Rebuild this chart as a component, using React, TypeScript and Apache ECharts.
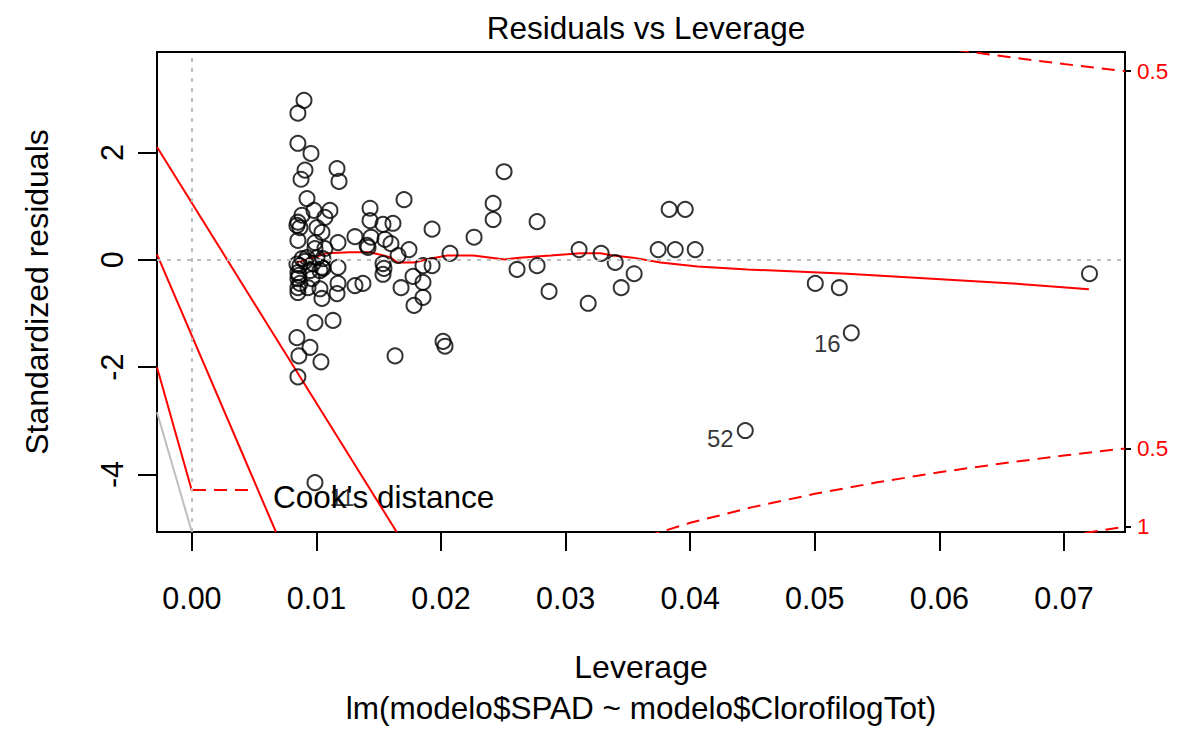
import React, { useEffect, useRef } from "react";
import * as echarts from "echarts";

// ---- data ----
const leverage = [
  0.0090, 0.00851, 0.00851, 0.00956, 0.00908, 0.00876, 0.01165, 0.01181, 0.00924, 0.00980,
  0.01108, 0.01068, 0.00884, 0.00851, 0.00867, 0.00843, 0.01004, 0.01044, 0.00851, 0.00988,
  0.01173, 0.00988, 0.01068, 0.01309, 0.01430, 0.01430, 0.01534, 0.01614, 0.01438, 0.01406,
  0.01414, 0.01550, 0.01598, 0.01655, 0.01743, 0.01703, 0.00924, 0.00884, 0.01004, 0.01052,
  0.00867, 0.00972, 0.01044, 0.01173, 0.00851, 0.00948, 0.01028, 0.01052, 0.00851, 0.00964,
  0.00867, 0.00851, 0.00851, 0.00932, 0.01028, 0.01173, 0.01165, 0.01044, 0.01309, 0.01373,
  0.01534, 0.01542, 0.01534, 0.01679, 0.01775, 0.01783, 0.00988, 0.01133, 0.00843, 0.00948,
  0.00859, 0.01036, 0.00851, 0.01631, 0.00988, 0.01855, 0.01928, 0.01855, 0.01855, 0.01928,
  0.02072, 0.02265, 0.02418, 0.02418, 0.02506, 0.02610, 0.02771, 0.02771, 0.02867, 0.03108,
  0.03181, 0.03285, 0.03398, 0.03446, 0.03550, 0.03743, 0.03831, 0.03880, 0.03960, 0.04040,
  0.04442, 0.05004, 0.05197, 0.05293, 0.07205, 0.02016, 0.02032, 0.00843, 0.00859, 0.00908,
];
const stdResid = [
  2.97, 2.73, 2.17, 1.98, 1.67, 1.50, 1.70, 1.46, 1.14, 0.92,
  0.92, 0.79, 0.83, 0.70, 0.60, 0.64, 0.60, 0.51, 0.36, 0.32,
  0.32, 0.21, 0.21, 0.43, 0.96, 0.73, 0.66, 0.68, 0.42, 0.27,
  0.23, 0.38, 0.30, 0.08, 0.19, 1.12, 0.04, 0.02, 0.04, 0.02,
  -0.11, -0.07, -0.14, -0.14, -0.24, -0.20, -0.20, -0.16, -0.35, -0.35,
  -0.44, -0.61, -0.52, -0.52, -0.54, -0.44, -0.63, -0.72, -0.48, -0.44,
  -0.07, -0.16, -0.27, -0.52, -0.31, -0.85, -1.17, -1.13, -1.45, -1.63,
  -1.79, -1.90, -2.18, -1.79, -4.15, -0.11, -0.11, -0.42, -0.70, 0.57,
  0.12, 0.42, 1.05, 0.75, 1.64, -0.18, 0.71, -0.11, -0.59, 0.19,
  -0.81, 0.12, -0.05, -0.52, -0.26, 0.19, 0.94, 0.19, 0.94, 0.19,
  -3.18, -0.44, -0.52, -1.36, -0.26, -1.52, -1.61, -0.08, -0.29, -0.03,
];
// indices of labelled observations and their ids
const labelIndex = [74, 100, 103];
const labelText = ["11", "52", "16"];

// loess smoother (red solid)
const smoothX = [0.0084, 0.0095, 0.0108, 0.0127, 0.0143, 0.0159, 0.0165, 0.0178, 0.0191, 0.0205,
  0.0226, 0.0251, 0.0263, 0.0288, 0.0312, 0.0328, 0.0338, 0.0354, 0.0376, 0.0406,
  0.0446, 0.0526, 0.0659, 0.0720];
const smoothY = [-0.045, 0.02, 0.12, 0.14, 0.14, 0.05, -0.05, -0.05, 0.02, 0.08,
  0.08, 0.005, 0.04, 0.08, 0.12, 0.12, 0.08, 0.04, -0.05, -0.125,
  -0.18, -0.26, -0.44, -0.55];

// Cook's distance contours (red dashed)
const cook05UpperX = [0.058, 0.062, 0.066, 0.070, 0.0749];
const cook05UpperY = [4.03, 3.889, 3.762, 3.645, 3.514];
const cook05LowerX = [0.0365, 0.040, 0.045, 0.050, 0.055, 0.060, 0.065, 0.070, 0.0749];
const cook05LowerY = [-5.15, -4.899, -4.607, -4.359, -4.145, -3.958, -3.793, -3.645, -3.514];
const cook1LowerX = [0.0700, 0.0749];
const cook1LowerY = [-5.15, -4.97];

// stray solid lines at the lower left
const segAX = [-0.0028, 0.01644];
const segAY = [2.10, -5.07];
const segBX = [-0.0028, 0.00675];
const segBY = [0.10, -5.07];
const segCX = [-0.0028, 0.0];
const segCY = [-2.0, -4.30];
const greyX = [-0.0028, 0.0];
const greyY = [-2.84, -5.07];

// axes
const xTicks = [0.0, 0.01, 0.02, 0.03, 0.04, 0.05, 0.06, 0.07];
const yTicks = [-4, -2, 0, 2];
const cookTickPos = [3.514, -3.514, -4.97];
const cookTickLabel = ["0.5", "0.5", "1"];

const FONT = "'Liberation Sans', Arial, Helvetica, sans-serif";

const zip = (xs: number[], ys: number[]) => xs.map((x, i) => [x, ys[i]]);

export default function App() {
  const ref = useRef<HTMLDivElement>(null);
  useEffect(() => {
    if (!ref.current) return;
    const chart = echarts.init(ref.current, null, { renderer: "svg" });
    const pts = leverage.map((x, i) => {
      const k = labelIndex.indexOf(i);
      const item: any = { value: [x, stdResid[i]] };
      if (k >= 0) {
        const off = k === 0 ? [27, 15] : k === 1 ? [-25, 8] : [-24, 11];
        item.label = {
          show: true,
          formatter: labelText[k],
          position: "inside",
          offset: off,
          color: "#000",
          fontSize: 24,
          fontFamily: FONT,
        };
      }
      return item;
    });
    const redDash = { color: "#FF0000", width: 2, type: [13, 8] as any };
    const redSolid = { color: "#FF0000", width: 2, type: "solid" as const };
    const lineSeries = (data: number[][], lineStyle: any) => ({
      type: "line",
      data,
      showSymbol: false,
      symbol: "none",
      lineStyle,
      silent: true,
      clip: true,
      z: 2,
    });
    chart.setOption({
      animation: false,
      backgroundColor: "#fff",
      textStyle: { fontFamily: FONT },
      title: {
        text: "Residuals vs Leverage",
        left: 641,
        top: 7,
        textAlign: "center",
        textStyle: { fontSize: 31.5, fontWeight: "normal", color: "#000", fontFamily: FONT },
      },
      grid: {
        left: 157,
        right: 54,
        top: 52,
        bottom: 197,
        show: true,
        borderColor: "#000",
        borderWidth: 2,
        backgroundColor: "transparent",
      },
      xAxis: {
        type: "value",
        min: -0.0028,
        max: 0.0749,
        name: "Leverage",
        nameLocation: "middle",
        nameGap: 119,
        nameTextStyle: { fontSize: 32, color: "#000", fontFamily: FONT },
        axisLine: { show: true, onZero: false, lineStyle: { color: "#000", width: 2 } },
        axisTick: { show: true, length: 19, customValues: xTicks, lineStyle: { color: "#000", width: 2 } },
        axisLabel: {
          customValues: xTicks,
          formatter: (v: number) => v.toFixed(2),
          fontSize: 30.5,
          color: "#000",
          margin: 50,
          fontFamily: FONT,
        },
        splitLine: { show: false },
      },
      yAxis: [
        {
          type: "value",
          min: -5.07,
          max: 3.87,
          name: "Standardized residuals",
          nameLocation: "middle",
          nameGap: 104,
          nameRotate: 90,
          nameTextStyle: { fontSize: 32, color: "#000", fontFamily: FONT },
          axisLine: { show: true, onZero: false, lineStyle: { color: "#000", width: 2 } },
          axisTick: { show: true, length: 19, customValues: yTicks, lineStyle: { color: "#000", width: 2 } },
          axisLabel: {
            customValues: yTicks,
            rotate: 90,
            fontSize: 30.5,
            color: "#000",
            margin: 30,
            fontFamily: FONT,
          },
          splitLine: { show: false },
        },
        {
          type: "value",
          position: "right",
          min: -5.07,
          max: 3.87,
          axisLine: { show: true, onZero: false, lineStyle: { color: "#000", width: 2 } },
          axisTick: { show: true, length: 6, customValues: cookTickPos, lineStyle: { color: "#000", width: 2 } },
          axisLabel: {
            customValues: cookTickPos,
            formatter: (v: number) => {
              let best = 0;
              cookTickPos.forEach((p, i) => {
                if (Math.abs(p - v) < Math.abs(cookTickPos[best] - v)) best = i;
              });
              return cookTickLabel[best];
            },
            fontSize: 22.5,
            color: "#FF0000",
            margin: 12,
            padding: [14, 0, 0, 0],
            fontFamily: FONT,
          },
          splitLine: { show: false },
        },
      ],
      series: [
        {
          type: "line",
          data: [],
          silent: true,
          markLine: {
            silent: true,
            symbol: "none",
            label: { show: false },
            lineStyle: { color: "#BEBEBE", width: 2, type: [4, 6] },
            data: [{ xAxis: 0 }, { yAxis: 0 }],
          },
        },
        lineSeries(zip(greyX, greyY), { color: "#BEBEBE", width: 2, type: "solid" }),
        lineSeries(zip(segAX, segAY), redSolid),
        lineSeries(zip(segBX, segBY), redSolid),
        lineSeries(zip(segCX, segCY), redSolid),
        lineSeries(zip(smoothX, smoothY), redSolid),
        lineSeries(zip(cook05UpperX, cook05UpperY), redDash),
        lineSeries(zip(cook05LowerX, cook05LowerY), redDash),
        lineSeries(zip(cook1LowerX, cook1LowerY), redDash),
        {
          type: "scatter",
          data: pts,
          symbol: "circle",
          symbolSize: 15,
          itemStyle: { color: "rgba(0,0,0,0)", borderColor: "#000", borderWidth: 2 },
          silent: true,
          z: 3,
        },
      ],
      graphic: [
        {
          type: "line",
          shape: { x1: 193, y1: 490, x2: 250, y2: 490 },
          style: { stroke: "#FF0000", lineWidth: 2, lineDash: [13, 8] },
          silent: true,
        },
        {
          type: "text",
          x: 273,
          y: 497,
          style: {
            text: "Cook's distance",
            fontSize: 31.5,
            fill: "#000",
            fontFamily: FONT,
            textAlign: "left",
            textVerticalAlign: "middle",
          },
          silent: true,
        },
        {
          type: "text",
          x: 641,
          y: 708,
          style: {
            text: "lm(modelo$SPAD ~ modelo$ClorofilogTot)",
            fontSize: 31.5,
            fill: "#000",
            fontFamily: FONT,
            textAlign: "center",
            textVerticalAlign: "middle",
          },
          silent: true,
        },
      ],
    });
    return () => chart.dispose();
  }, []);
  return (
    <div
      ref={ref}
      style={{ position: "absolute", left: 0, top: 0, width: 1179, height: 729, background: "#fff" }}
    />
  );
}
